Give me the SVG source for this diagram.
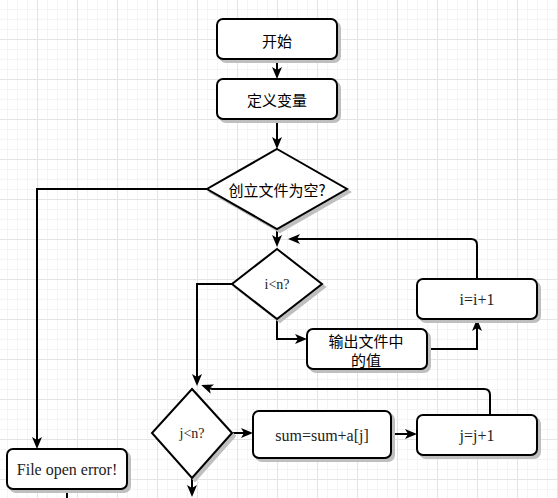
<svg xmlns="http://www.w3.org/2000/svg" width="558" height="498" viewBox="0 0 558 498">
<style>
.box{fill:#fff;stroke:#000;stroke-width:2}
.sh{fill:#bfbfbf;stroke:#bfbfbf;stroke-width:2}
.edge{fill:none;stroke:#000;stroke-width:2}
.zh{font-family:"Noto Sans CJK SC","Noto Sans",sans-serif;font-size:15px;fill:#000;text-anchor:middle;dominant-baseline:central}
.en{font-family:"Liberation Serif",serif;font-size:16px;fill:#222;text-anchor:middle;dominant-baseline:central}
.en14{font-size:14px}
</style>
<defs>
<pattern id="grid" x="-3" y="-1" width="40" height="40" patternUnits="userSpaceOnUse">
<path d="M10.5,0V40M20.5,0V40M30.5,0V40M0,10.5H40M0,20.5H40M0,30.5H40" stroke="#f4f4f4" stroke-width="1" fill="none"/>
<path d="M0.5,0V40M0,0.5H40" stroke="#e4e4e4" stroke-width="1" fill="none"/>
</pattern>
<marker id="arr" viewBox="0 0 12 10" refX="9" refY="5" markerWidth="12" markerHeight="10" markerUnits="userSpaceOnUse" orient="auto">
<path d="M0,0 L12,5 L0,10 L3,5 Z" fill="#000"/>
</marker>
</defs>
<rect width="558" height="498" fill="#fff"/>
<rect width="558" height="498" fill="url(#grid)"/>

<g id="connectors">
<path class="edge" d="M277,59 V76" marker-end="url(#arr)"/>
<path class="edge" d="M277,119 V146" marker-end="url(#arr)"/>
<path class="edge" d="M277,229 V244" marker-end="url(#arr)"/>
<path class="edge" d="M207,189 H37 V446" marker-end="url(#arr)"/>
<path class="edge" d="M67,489 V498"/>
<path class="edge" d="M277,319 V339 H304" marker-end="url(#arr)"/>
<path class="edge" d="M427,349 H477 V322" marker-end="url(#arr)"/>
<path class="edge" d="M477,279 V245 Q477,239 471,239 H291" marker-end="url(#arr)"/>
<path class="edge" d="M232,284 H197 V383" marker-end="url(#arr)"/>
<path class="edge" d="M490,415 V395 Q490,389 484,389 H212 L204,386" marker-end="url(#arr)"/>
<path class="edge" d="M232,433 H250" marker-end="url(#arr)"/>
<path class="edge" d="M391,434 H414" marker-end="url(#arr)"/>
<path class="edge" d="M192,478 V494" marker-end="url(#arr)"/>
</g>

<g id="start">
<rect class="sh" x="220" y="22" width="120" height="40" rx="6"/>
<rect class="box" x="217" y="19" width="120" height="40" rx="6"/>
<text class="zh" x="277" y="40">开始</text>
</g>
<g id="define">
<rect class="sh" x="220" y="82" width="120" height="40" rx="6"/>
<rect class="box" x="217" y="79" width="120" height="40" rx="6"/>
<text class="zh" x="277" y="99">定义变量</text>
</g>
<g id="fileEmpty">
<polygon class="sh" points="280,152 350,192 280,232 210,192"/>
<polygon class="box" points="277,149 347,189 277,229 207,189"/>
<text class="zh" x="277" y="189">创立文件为空?</text>
</g>
<g id="iLessN">
<polygon class="sh" points="280,252 325,287 280,322 235,287"/>
<polygon class="box" points="277,249 322,284 277,319 232,284"/>
<text class="en en14" x="277" y="284">i&lt;n?</text>
</g>
<g id="output">
<rect class="sh" x="310" y="332" width="120" height="40" rx="6"/>
<rect class="box" x="307" y="329" width="120" height="40" rx="6"/>
<text class="zh" x="366" y="340">输出文件中</text>
<text class="zh" x="366" y="359">的值</text>
</g>
<g id="iInc">
<rect class="sh" x="420" y="282" width="120" height="40" rx="6"/>
<rect class="box" x="417" y="279" width="120" height="40" rx="6"/>
<text class="en" x="477" y="299">i=i+1</text>
</g>
<g id="fileError">
<rect class="sh" x="10" y="452" width="120" height="40" rx="6"/>
<rect class="box" x="7" y="449" width="120" height="40" rx="6"/>
<text class="en" x="67" y="469">File open error!</text>
</g>
<g id="jLessN">
<polygon class="sh" points="195,392 235,436 195,481 155,436"/>
<polygon class="box" points="192,389 232,433 192,478 152,433"/>
<text class="en en14" x="192" y="433">j&lt;n?</text>
</g>
<g id="sum">
<rect class="sh" x="256" y="414" width="138" height="47" rx="6"/>
<rect class="box" x="253" y="411" width="138" height="47" rx="6"/>
<text class="en" x="322" y="435">sum=sum+a[j]</text>
</g>
<g id="jInc">
<rect class="sh" x="420" y="418" width="120" height="40" rx="6"/>
<rect class="box" x="417" y="415" width="120" height="40" rx="6"/>
<text class="en" x="477" y="435">j=j+1</text>
</g>
</svg>
